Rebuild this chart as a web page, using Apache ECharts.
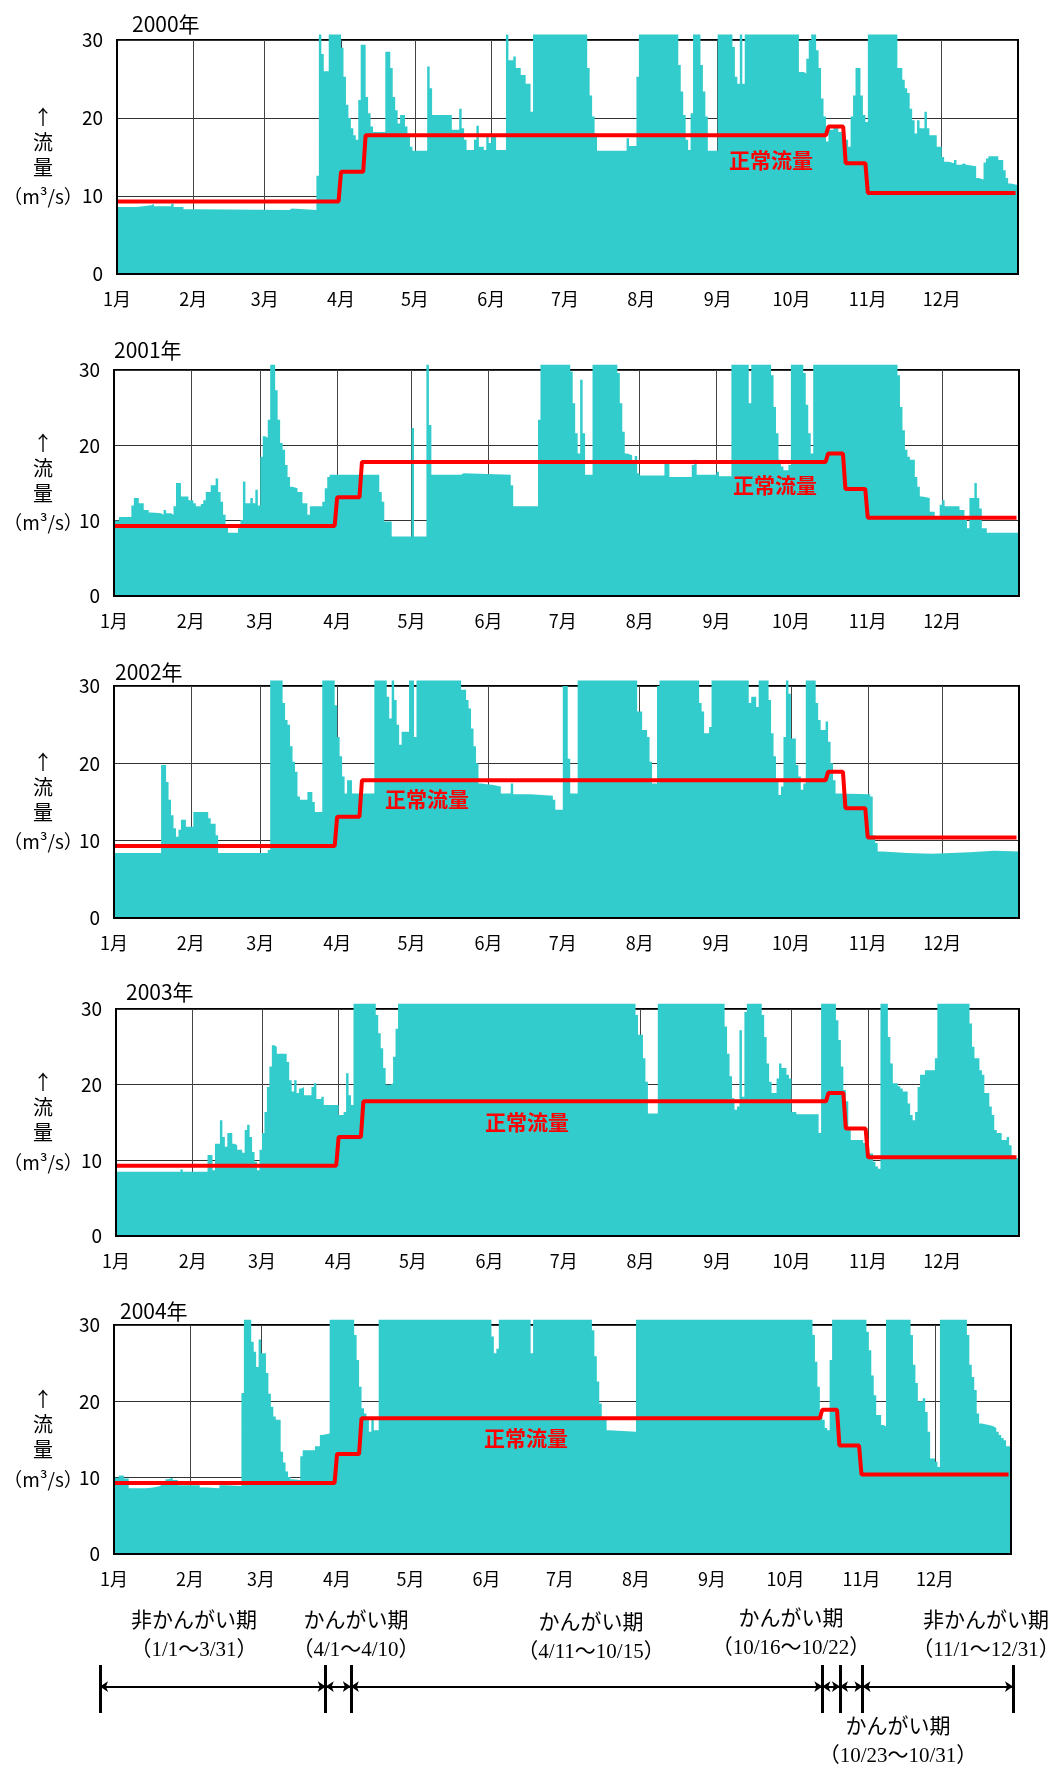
<!DOCTYPE html>
<html>
<head>
<meta charset="utf-8">
<script src="https://cdn.jsdelivr.net/npm/echarts@6/dist/echarts.min.js"></script>
<style>
  html, body { margin: 0; padding: 0; background: #fff; }
  #main { width: 1059px; height: 1765px; }
</style>
</head>
<body>
<div id="main"></div>
<script>
// 年ごとの日流量 [日(1/1=0), 流量 m3/s]  30.7 = 目盛外（頭打ち）
var years = ['2000年', '2001年', '2002年', '2003年', '2004年'];
var monthLabels = ['1月', '2月', '3月', '4月', '5月', '6月', '7月', '8月', '9月', '10月', '11月', '12月'];

var flow2000 = [[0,8.6],[8,8.8],[14,9.0],[15,8.7],[22,9.0],[23,8.6],[27,8.3],[31,8.2],[70,8.4],[71,8.2],[81,12.6],[82,30.7],[83,28.2],[84,26],[86,30.7],[91,29],[92,25.3],[93,21.7],[94,20],[95,18.7],[96,17.8],[97,17.2],[98,22.3],[99,29.4],[101,22.7],[102,20.6],[103,18.9],[104,18.2],[109,28.5],[111,26.4],[112,22.7],[113,21],[114,19.3],[115,20.4],[117,18.9],[118,17.6],[119,16.3],[120,15.8],[126,26.6],[127,23.8],[128,20.4],[136,18.5],[139,21.2],[140,18.7],[141,17.2],[142,15.9],[145,17.2],[146,19],[147,16.3],[149,15.9],[150,17.6],[151,16.8],[152,17.6],[154,15.9],[158,30.7],[159,27.4],[161,27.9],[162,26.4],[164,25.5],[166,24.4],[168,20.8],[169,30.7],[191,26.4],[192,22.9],[193,20.2],[194,18],[195,15.8],[207,17.4],[208,16.4],[211,25.3],[212,30.7],[228,26.8],[229,23.4],[230,20.4],[231,17.2],[232,15.9],[233,20.6],[234,30.7],[237,26.8],[238,23.4],[239,20.2],[240,15.8],[244,30.7],[250,29.1],[251,25.3],[252,24.4],[253,30.7],[254,24.4],[255,30.7],[277,25.9],[279,25.7],[280,27.6],[281,30],[282,30.7],[284,28.7],[285,26.4],[286,22.5],[287,20.2],[288,17],[289,18.5],[291,18.9],[293,18.2],[295,17.6],[296,17.2],[297,16.3],[298,20.2],[299,22.9],[300,26.4],[302,22.9],[303,20.4],[304,19.5],[305,30.7],[317,26.4],[319,24.9],[320,23.8],[321,23.2],[322,21.2],[323,19.7],[324,18],[325,19.7],[326,18.7],[328,20.8],[329,18.7],[330,17.8],[333,16.3],[335,15],[336,14.4],[338,14.2],[340,14.6],[341,14],[343,14.2],[344,14],[345,13.8],[349,12.3],[350,12.1],[352,14.3],[353,14.8],[354,15.1],[358,14.6],[360,13.3],[361,12.3],[362,11.6],[363,11.4],[366,11.4]];

var flow2001 = [[0,10],[2,10.5],[7,12],[8,13],[10,12.3],[12,11.4],[14,11.1],[15,11],[19,10.8],[20,11.4],[21,11],[23,10.8],[24,11.9],[25,15],[27,13.2],[30,12.7],[32,12.3],[33,11.9],[35,12.2],[36,12.7],[37,13.8],[39,14.7],[41,15.6],[42,13.8],[43,12.5],[44,10.8],[45,9.4],[46,8.4],[50,9],[51,10.1],[52,15.2],[53,12.3],[55,13],[56,12.3],[57,14.1],[58,12],[59,18.5],[60,21.2],[61,21],[62,23.4],[63,30.7],[65,27.3],[66,23.4],[67,20.3],[68,19.4],[69,17.4],[70,15.8],[71,14.5],[72,14.3],[74,13.8],[76,12.3],[78,10.8],[79,11.9],[84,12.5],[85,14.3],[86,15.8],[87,16.1],[107,13.8],[108,12.5],[109,9.9],[112,7.9],[120,22.3],[121,7.9],[126,30.7],[127,22.7],[128,16.1],[140,16.3],[141,16.1],[160,14.7],[161,11.9],[171,23.4],[172,30.7],[184,29.8],[185,25.6],[186,21.6],[187,18.9],[188,28.7],[189,21.6],[190,16.1],[193,30.7],[203,29.6],[204,25.6],[205,21.8],[206,18.9],[207,18.7],[209,17.6],[210,18.6],[211,16.3],[212,16],[222,17.6],[224,15.8],[233,17.4],[234,18.1],[235,16.1],[243,16.5],[244,15.9],[249,30.7],[256,25.6],[257,30.7],[265,29.3],[266,25.1],[267,21.6],[268,18.1],[269,17.2],[270,16.7],[272,17.4],[273,30.7],[278,29.6],[279,25.4],[280,21.6],[281,18.9],[282,30.7],[316,29.3],[317,25.1],[318,22],[319,19.4],[320,18.5],[321,18.1],[323,15.8],[324,14.5],[325,13.2],[326,13],[329,11.2],[331,10.5],[333,12.1],[334,12.7],[335,11.9],[341,11.4],[343,10.1],[344,9],[345,13],[347,15],[348,13],[349,11.6],[350,9],[352,8.4],[365,8.4]];

var flow2002 = [[0,8.4],[19,19.8],[21,17.6],[22,15.3],[23,13.3],[24,11.6],[25,10.5],[26,11.4],[27,12.7],[29,11.8],[32,13.7],[38,12.9],[39,12.2],[41,10.7],[42,8.4],[62,8.8],[63,30.7],[68,27.8],[69,25.6],[70,25],[71,22.2],[72,20.2],[73,18.9],[74,15.7],[75,15.3],[78,16.3],[80,15],[81,13.7],[84,30.7],[89,27.5],[90,23.4],[91,20.9],[92,18.3],[93,16.1],[94,17.8],[96,16.1],[105,30.7],[110,28.6],[111,25.8],[112,30.7],[113,28.2],[114,25],[115,22.4],[116,24.1],[119,30.7],[121,23.4],[122,30.7],[140,29.5],[142,28.2],[143,27.1],[144,24.5],[145,22.2],[146,20],[147,17.4],[148,17.2],[153,17],[156,16.1],[160,17.4],[161,16],[168,15.8],[177,15.3],[178,14],[181,30],[183,20.6],[184,16.1],[187,30.7],[211,26.7],[213,24.3],[215,23.4],[216,20.2],[217,17.4],[219,30],[220,30.7],[236,27.8],[237,26.7],[238,23.9],[240,24.7],[241,30.7],[256,27.8],[257,28.6],[259,27.3],[260,30.7],[264,28.2],[265,23.9],[266,20.9],[267,17.8],[268,15.9],[269,17],[270,23.4],[271,30.7],[272,29],[273,23.2],[275,19.8],[276,18.3],[277,16.6],[278,17.4],[279,30.7],[283,27.8],[284,25.6],[285,24.3],[287,25.4],[288,22.8],[289,20],[290,17.8],[291,16.1],[292,16],[305,15.7],[306,10.7],[307,9.7],[308,8.6],[310,8.4],[320,8.3],[330,8.5],[345,8.7],[355,8.6],[365,8.4]];

var flow2003 = [[0,8.5],[26,8.8],[27,8.5],[37,10.7],[39,8.7],[40,12.2],[42,15.3],[43,13.1],[44,11.8],[45,13.6],[47,12.2],[48,12],[49,11.4],[51,11],[52,14],[53,14.7],[54,13.1],[55,11.1],[56,9.8],[57,8.7],[58,11.4],[59,13.6],[60,16.4],[61,19.7],[62,22.4],[63,25.2],[64,25],[65,24.1],[69,23],[70,20.6],[71,19.1],[72,20.6],[73,18.9],[74,19.5],[75,19.7],[76,18.6],[79,19.7],[80,20.2],[81,18.1],[83,18.4],[84,17.3],[90,16],[92,16.4],[93,21.5],[94,18.6],[95,17.3],[96,30.7],[105,29.2],[106,26.8],[107,24.8],[108,22.2],[109,20],[111,20.2],[112,23.7],[113,27.4],[114,30.7],[210,29.2],[211,26.6],[213,23.5],[214,20.4],[215,16.2],[219,30.7],[246,27.7],[247,24.1],[248,21.1],[249,18.2],[250,16.7],[251,17.1],[252,27.2],[253,18.4],[254,29.6],[255,30.7],[261,29.2],[262,26.3],[263,22.8],[264,20.4],[265,18.9],[267,20.8],[268,22.8],[269,22.2],[271,21.3],[272,20.8],[273,16.4],[275,16.1],[284,13.6],[285,30.7],[291,28.5],[292,25.9],[293,22.4],[294,19.3],[295,17.8],[296,14.4],[297,12.7],[302,12.3],[304,10.9],[306,9.8],[307,9.2],[308,8.9],[309,30.7],[312,26.3],[313,22.8],[314,20.2],[316,19.8],[317,19.5],[318,19.1],[320,17.5],[321,16],[322,15.3],[323,16.4],[324,19.7],[325,21.3],[327,21.9],[331,23.5],[332,30.7],[345,28.1],[346,25],[347,23.5],[349,21.9],[350,21.3],[351,18.9],[353,17.1],[354,16],[355,14],[356,13.6],[358,12.7],[360,13.1],[361,12],[362,10.7],[363,10.3],[365,10.3]];

var flow2004 = [[0,10],[2,10.3],[4,9.9],[6,8.6],[13,8.7],[16,8.9],[19,9.2],[21,9.8],[22,10],[24,9.7],[26,9],[35,8.7],[38,8.6],[43,9],[46,8.9],[52,21.1],[53,30.7],[56,27.8],[57,26.5],[58,24.5],[59,28.1],[60,26.3],[62,23.7],[63,21],[64,19.3],[65,18],[66,17.6],[68,13.4],[69,12],[70,10.8],[71,10.1],[72,9.8],[73,9.7],[76,12.8],[77,13.6],[82,14.1],[84,15.6],[85,15.8],[88,30.7],[98,28.7],[99,25.4],[100,21.9],[101,19.1],[102,18.4],[103,17.6],[104,16],[105,17.6],[106,16.2],[108,30.7],[154,28.5],[155,26.3],[156,26.9],[157,30.7],[170,26.3],[171,30.7],[195,29.3],[196,25.9],[197,22.6],[198,19.7],[199,17.6],[201,16.2],[202,16],[213,30.7],[285,28.7],[286,25.2],[287,21.9],[288,18.4],[289,17.6],[290,16.5],[291,16.2],[292,25.4],[293,30.7],[307,29.1],[308,26.7],[309,23.4],[310,20.8],[311,18.2],[313,16.9],[314,16.7],[315,30.7],[325,28.7],[326,24.8],[327,22.4],[328,20],[330,20.4],[331,18.6],[332,16],[333,12.5],[335,12.1],[336,11.4],[337,30.7],[348,28.7],[349,24.8],[350,23.2],[351,21.5],[352,18.4],[353,17.1],[354,16.9],[357,16.7],[359,16.5],[360,16],[361,15.6],[362,15.2],[363,14.9],[364,14.1],[366,14.1]];

var flows = [flow2000, flow2001, flow2002, flow2003, flow2004];

// 正常流量（期間の開始日 [月, 日] と流量）
var periodStarts = [[1, 1], [4, 1], [4, 11], [10, 16], [10, 23], [11, 1]];
var normalFlow = [9.3, 13.1, 17.8, 18.9, 14.2, 10.4];

// かんがい期の区分（下の説明図）
var periodBounds = [[1, 1], [4, 1], [4, 11], [10, 16], [10, 23], [11, 1], [12, 31]];
var periodNames = ['非かんがい期', 'かんがい期', 'かんがい期', 'かんがい期', '非かんがい期', 'かんがい期'];
var periodRanges = ['（1/1～3/31）', '（4/1～4/10）', '（4/11～10/15）', '（10/16～10/22）', '（11/1～12/31）', '（10/23～10/31）'];

// レイアウト（px）
var panelLeft = [117, 114, 114, 116, 114];
var panelRight = [1018, 1019, 1019, 1019, 1011];
var panelTop = [40, 370, 686, 1009, 1325];
var panelBottom = [274, 596, 918, 1236, 1554];
var titlePos = [[132, 24], [114, 350], [115, 672], [126, 992], [120, 1311]];
var labelPos = [[771, 160], [775, 485], [427, 799], [527, 1122], [526, 1438]];
var periodTextPos = [[194, 1619], [356, 1619], [591, 1621], [791, 1617], [986, 1619], [898, 1725]];

var FONT = "'Noto Sans CJK JP', 'Noto Sans', sans-serif";
var SERIF = "'Liberation Serif', 'Noto Sans CJK JP', serif";

function dayOfYear(y, m, d) {
  return Math.round((Date.UTC(y, m - 1, d) - Date.UTC(y, 0, 1)) / 86400000);
}

var grids = [], xAxes = [], yAxes = [], series = [], graphics = [];

years.forEach(function (name, i) {
  var yr = parseInt(name, 10);
  var days = dayOfYear(yr, 12, 31) + 1;
  var monthDays = monthLabels.map(function (lab, m) { return dayOfYear(yr, m + 1, 1); });

  // 正常流量の折れ線
  var normal = [];
  periodStarts.forEach(function (p, k) {
    var s = dayOfYear(yr, p[0], p[1]);
    var e = k < periodStarts.length - 1
      ? dayOfYear(yr, periodStarts[k + 1][0], periodStarts[k + 1][1]) - 1
      : days - 1;
    normal.push([s, normalFlow[k]], [e, normalFlow[k]]);
  });

  var l = panelLeft[i], r = panelRight[i], t = panelTop[i], b = panelBottom[i];
  grids.push({
    left: l, top: t, width: r - l, height: b - t,
    show: true, borderColor: '#000', borderWidth: 2, outerBoundsMode: 'none'
  });
  xAxes.push({
    type: 'value', gridIndex: i, min: 0, max: days,
    axisLine: { show: false },
    axisTick: { show: false, customValues: monthDays },
    axisLabel: {
      customValues: monthDays,
      formatter: function (v) { return monthLabels[monthDays.indexOf(Math.round(v))] || ''; },
      color: '#000', fontSize: 18, margin: 16, hideOverlap: false
    },
    splitLine: { show: false }
  });
  yAxes.push({
    type: 'value', gridIndex: i, min: 0, max: 30, interval: 10,
    axisLine: { show: false }, axisTick: { show: false },
    axisLabel: { color: '#000', fontSize: 19, margin: 14 },
    splitLine: { show: true, lineStyle: { color: '#333', width: 1 } }
  });
  // 月の区切り線（流量の面の下）
  series.push({
    type: 'line', xAxisIndex: i, yAxisIndex: i, data: [], silent: true, z: 1,
    markLine: {
      z: 1, silent: true, symbol: 'none', animation: false,
      label: { show: false },
      lineStyle: { color: '#444', width: 1, type: 'solid' },
      data: monthDays.slice(1).map(function (d) { return { xAxis: d }; })
    }
  });
  series.push({
    type: 'line', xAxisIndex: i, yAxisIndex: i, data: flows[i],
    step: 'end', symbol: 'none', clip: false, silent: true, z: 2,
    lineStyle: { width: 0, opacity: 0 },
    areaStyle: { color: '#33cccc', opacity: 1 }
  });
  series.push({
    type: 'line', xAxisIndex: i, yAxisIndex: i, data: normal,
    symbol: 'none', silent: true, z: 3,
    lineStyle: { color: '#ff0000', width: 4 }
  });

  // 枠（左・下・右はグラフの上に描く）
  graphics.push({
    type: 'polyline', z: 100,
    shape: { points: [[l, t], [l, b], [r, b], [r, t]] },
    style: { stroke: '#000', lineWidth: 2, fill: null }
  });
  graphics.push({
    type: 'text', x: titlePos[i][0], y: titlePos[i][1], z: 100,
    style: { text: name, fontSize: 21, fontFamily: FONT, fill: '#000', align: 'left', verticalAlign: 'middle' }
  });
  var mid = (t + b) / 2;
  graphics.push({
    type: 'text', x: 43, y: mid - 15, z: 100,
    style: { text: '↑\n流\n量', fontSize: 20, lineHeight: 25, fontFamily: FONT, fill: '#000', align: 'center', verticalAlign: 'middle' }
  });
  graphics.push({
    type: 'text', x: 43, y: mid + 40, z: 100,
    style: { text: '（m³/s）', fontSize: 19, fontFamily: FONT, fill: '#000', align: 'center', verticalAlign: 'middle' }
  });
  graphics.push({
    type: 'text', x: labelPos[i][0], y: labelPos[i][1], z: 100,
    style: { text: '正常流量', fontSize: 21, fontWeight: 'bold', fontFamily: FONT, fill: '#ff0000', align: 'center', verticalAlign: 'middle' }
  });
});

// かんがい期の説明図
var refYear = 2001;
var boundDays = periodBounds.map(function (p) { return dayOfYear(refYear, p[0], p[1]); });
grids.push({ left: 100, width: 913, top: 1665, height: 48, show: false, outerBoundsMode: 'none' });
xAxes.push({ type: 'value', gridIndex: 5, min: 0, max: boundDays[boundDays.length - 1], show: false });
yAxes.push({ type: 'value', gridIndex: 5, min: 0, max: 1, show: false });

var tickLines = boundDays.map(function (d) { return { coords: [[d, 0], [d, 1]] }; });
var arrowLines = [];
for (var k = 0; k < boundDays.length - 1; k++) {
  arrowLines.push({ coords: [[boundDays[k], 0.55], [boundDays[k + 1], 0.55]] });
}
series.push({
  type: 'lines', coordinateSystem: 'cartesian2d', xAxisIndex: 5, yAxisIndex: 5,
  data: tickLines, symbol: 'none', silent: true, z: 5,
  lineStyle: { color: '#000', width: 3, opacity: 1 }
});
series.push({
  type: 'lines', coordinateSystem: 'cartesian2d', xAxisIndex: 5, yAxisIndex: 5,
  data: arrowLines, symbol: ['arrow', 'arrow'], symbolSize: 8, silent: true, z: 4,
  lineStyle: { color: '#000', width: 2, opacity: 1 }
});

periodNames.forEach(function (nm, k) {
  var p = periodTextPos[k];
  graphics.push({
    type: 'text', x: p[0], y: p[1], z: 100,
    style: { text: nm, fontSize: 21, fontFamily: FONT, fill: '#000', align: 'center', verticalAlign: 'middle' }
  });
  graphics.push({
    type: 'text', x: p[0], y: p[1] + 31, z: 100,
    style: { text: periodRanges[k], fontSize: 21, fontFamily: SERIF, fill: '#000', align: 'center', verticalAlign: 'middle' }
  });
});

var chart = echarts.init(document.getElementById('main'), null, { renderer: 'canvas' });
chart.setOption({
  animation: false,
  backgroundColor: '#fff',
  textStyle: { fontFamily: FONT },
  grid: grids,
  xAxis: xAxes,
  yAxis: yAxes,
  series: series,
  graphic: graphics
});
</script>
</body>
</html>
